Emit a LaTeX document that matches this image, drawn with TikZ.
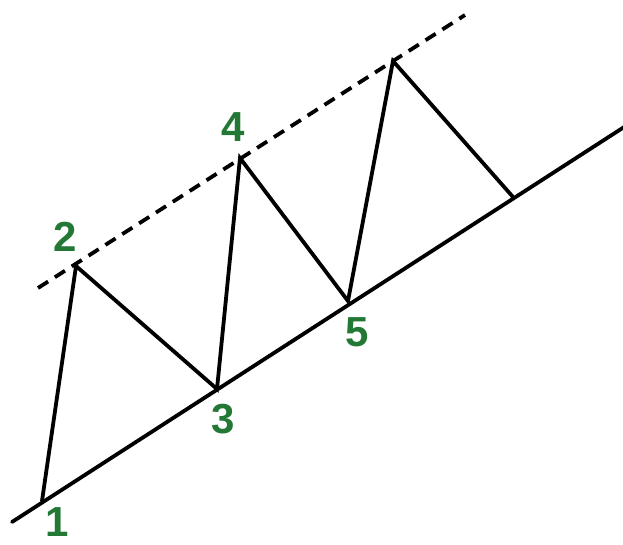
\documentclass[tikz,border=0pt]{standalone}
\usepackage{fontspec}
\setmainfont{Liberation Sans}
\definecolor{lblgreen}{RGB}{34,120,52}
\begin{document}
\begin{tikzpicture}[x=1pt,y=-1pt,
  trend/.style={line width=3.8pt,line cap=round},
  dashtrend/.style={line width=3.8pt,dash pattern=on 12pt off 8pt},
  wave/.style={line width=3.8pt,line join=miter},
  lbl/.style={font=\bfseries\fontsize{42}{42}\selectfont,text=lblgreen,inner sep=0pt}]
\useasboundingbox (0,0) rectangle (623,544);
\coordinate (s0) at (12,522);
\coordinate (s1) at (635,120);
\coordinate (d0) at (38,288);
\coordinate (d1) at (465,15);
\coordinate (p1) at (42,501);
\coordinate (p2) at (76,266);
\coordinate (p3) at (217,389);
\coordinate (p4) at (240,158);
\coordinate (p5) at (348,301);
\coordinate (p6) at (393,61);
\coordinate (p7) at (513,197);
\draw[trend] (s0) -- (s1);
\draw[dashtrend] (d0) -- (d1);
\draw[wave] (p1) -- (p2) -- (p3) -- (p4) -- (p5) -- (p6) -- (p7);
\node[lbl] (l1) at (57,522) {1};
\node[lbl] (l2) at (65,237) {2};
\node[lbl] (l3) at (223,419) {3};
\node[lbl] (l4) at (233,127) {4};
\node[lbl] (l5) at (357,332) {5};
\end{tikzpicture}
\end{document}
